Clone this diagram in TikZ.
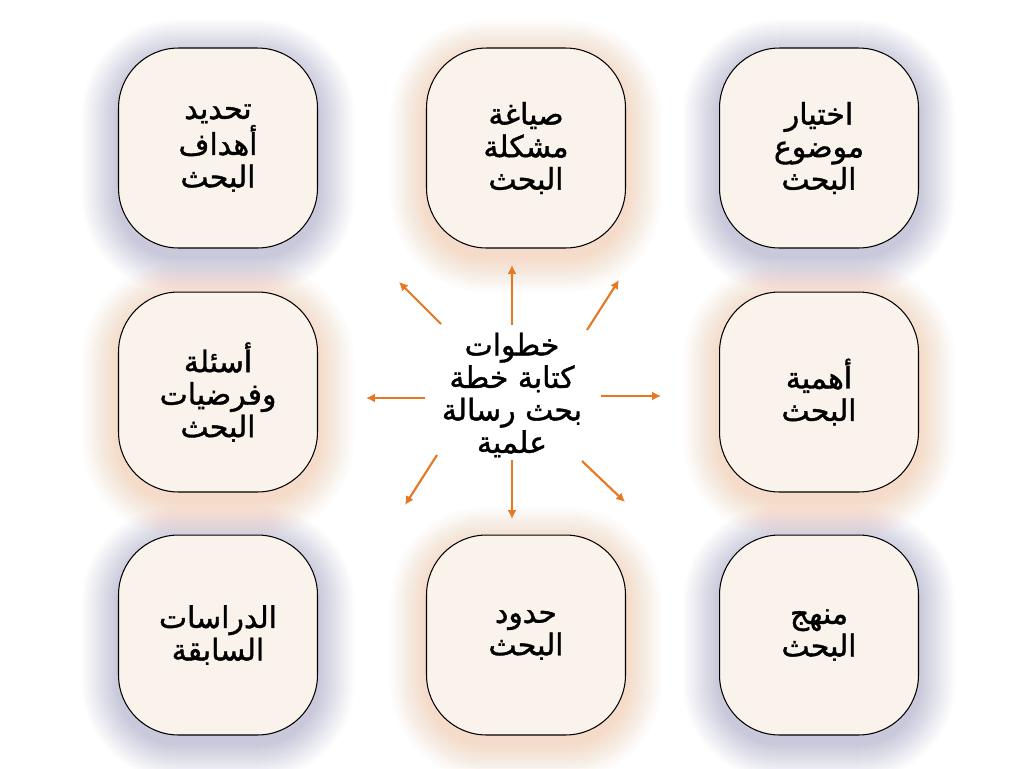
\documentclass[tikz,border=0pt]{standalone}
\usepackage{fontspec}
\newfontfamily\arabicfont[Script=Arabic,FakeBold=1.3]{DejaVu Sans}
\TeXXeTstate=1
\usetikzlibrary{arrows.meta,calc,backgrounds}
\definecolor{boxfill}{RGB}{249,243,235}
\definecolor{arrowc}{RGB}{232,119,34}
\definecolor{glowblue}{RGB}{70,66,150}
\definecolor{gloworange}{RGB}{245,140,70}
\newcommand{\arline}[1]{\beginR #1\endR}
\tikzset{
  stepbox/.style={draw=black, line width=0.6pt, fill=boxfill, rounded corners=1.2cm,
    minimum width=3.98cm, minimum height=4cm, align=center,
    font=\arabicfont\fontsize{17}{18.5}\selectfont},
  arr/.style={draw=arrowc, line width=1.2pt, -{Latex[length=5pt,width=5pt]}},
}
\begin{document}
\begin{tikzpicture}[x=0.02cm,y=-0.02cm]
  \useasboundingbox (0,0) rectangle (1024,768);
  % boxes
  \node[stepbox] (goals)      at (218,148) {\arline{تحديد}\\\arline{أهداف}\\\arline{البحث}};
  \node[stepbox] (problem)    at (526,148) {\arline{صياغة}\\\arline{مشكلة}\\\arline{البحث}};
  \node[stepbox] (topic)      at (819,148) {\arline{اختيار}\\\arline{موضوع}\\\arline{البحث}};
  \node[stepbox] (questions)  at (218,392) {\arline{أسئلة}\\\arline{وفرضيات}\\\arline{البحث}};
  \node[stepbox] (importance) at (819,392) {\arline{أهمية}\\\arline{البحث}};
  \node[stepbox] (studies)    at (218,635) {\arline{الدراسات}\\\arline{السابقة}};
  \node[stepbox] (limits)     at (526,635) {\arline{حدود}\\\arline{البحث}};
  \node[stepbox] (method)     at (819,635) {\arline{منهج}\\\arline{البحث}};
  % centre
  \node[align=center, font=\arabicfont\fontsize{17}{18.5}\selectfont] (title) at (512,395)
    {\arline{خطوات}\\\arline{كتابة خطة}\\\arline{بحث رسالة}\\\arline{علمية}};
  % arrows
  \foreach \k/\sx/\sy/\ex/\ey in {1/512/325/512/265, 2/587/330/619/280, 3/441/324/399/282,
      4/425/398/366/398, 5/601/396/661/396, 6/437/455/405/505, 7/512/460/512/519, 8/582/461/625/502}{
    \coordinate (from\k) at (\sx,\sy);
    \coordinate (to\k) at (\ex,\ey);
    \draw[arr] (from\k) -- (to\k);
  }
  % glow
  \begin{scope}[on background layer]
    \fill[white] (0,0) rectangle (1024,768);
    \foreach \n/\c in {goals/glowblue, topic/glowblue, studies/glowblue, method/glowblue,
        problem/gloworange, questions/gloworange, importance/gloworange, limits/gloworange}
      \foreach \i in {1,...,18}
        \fill[\c, fill opacity=0.015, rounded corners=1.2cm+\i*0.04cm]
          ($(\n.north west)+(-2*\i,-2*\i+8)$) rectangle ($(\n.south east)+(2*\i,2*\i+8)$);
  \end{scope}
\end{tikzpicture}
\end{document}
